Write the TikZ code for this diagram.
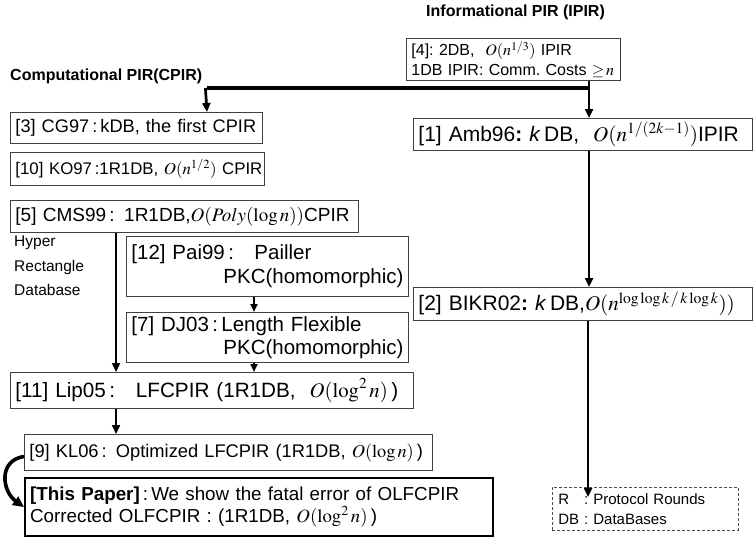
\documentclass[tikz,border=0pt]{standalone}
\usepackage{mathptmx}
\usepackage[no-math]{fontspec}
\setmainfont{Liberation Sans}
\usetikzlibrary{arrows.meta}
\tikzset{
  box/.style={draw=black!75, line width=0.9pt, anchor=north west, align=left,
    inner xsep=5pt, inner ysep=1pt},
  fs/.style n args={2}{font=\fontsize{#1}{#2}\selectfont},
  paperbox/.style={box, draw=black, line width=2.2pt},
  arr/.style={line width=2.7pt, -{Triangle[length=9pt,width=8pt]}},
  thinarr/.style={line width=2pt, -{Triangle[length=8pt,width=7pt]}},
  title/.style={anchor=west, inner sep=0pt, font=\bfseries\fontsize{16}{19}\selectfont},
}
\newcommand{\rfill}{\hspace*{0pt plus 1filll}}
\frenchspacing
\begin{document}
\begin{tikzpicture}[x=1pt,y=-1pt]
\useasboundingbox (0,0) rectangle (754,544);

% titles
\node[title] (tI) at (426,12) {Informational PIR (IPIR)};
\node[title] (tC) at (10,76) {Computational PIR(CPIR)};

% boxes
\node[box, fs={16}{19.5}, text width=204pt, minimum height=42pt] (b4) at (406,38)
  {\mbox{[4]: 2DB,~ $O(n^{1/3})$ IPIR}\\\mbox{1DB IPIR: Comm. Costs $\geq\! n$}};
\node[box, fs={18.2}{21}, text width=242pt, minimum height=31pt] (b3) at (10,112)
  {\mbox{[3] CG97\,:\,kDB, the first CPIR}};
\node[box, fs={16.8}{21}, text width=244pt, minimum height=33pt] (b10) at (10,152)
  {\mbox{[10] KO97\,:1R1DB, $O(n^{1/2})$ CPIR}};
\node[box, fs={19}{21}, text width=338pt, minimum height=32pt] (b5) at (10,200)
  {\mbox{[5] CMS99\,:\, 1R1DB,$O(Poly(\log n))$CPIR}};
\node[box, fs={21}{24}, text width=329pt, minimum height=32pt] (b1) at (413,118)
  {\mbox{[1] Amb96\textbf{:} \textit{k}\,DB,~ $O(n^{1/(2k-1)})$IPIR}};
\node[box, fs={21}{24}, text width=329pt, minimum height=33pt] (b2) at (413,287)
  {\mbox{[2] BIKR02\textbf{:} \textit{k}\,DB,$O(n^{\log\log k\,/\,k\log k}))$}};
\node[box, fs={20.5}{24}, text width=272pt, minimum height=60pt] (b12) at (126,236)
  {\mbox{[12] Pai99\,:~~ Pailler}\\\rfill\mbox{PKC(homomorphic)}};
\node[box, fs={20.5}{23}, text width=272pt, minimum height=50pt] (b7) at (126,312)
  {\mbox{[7] DJ03\,:\,Length Flexible}\\\rfill\mbox{PKC(homomorphic)}};
\node[box, fs={20.7}{24}, text width=393pt, minimum height=36pt] (b11) at (10,372)
  {\mbox{[11] Lip05\,:~~ LFCPIR (1R1DB,~ $O(\log^2 n)$\,)}};
\node[box, fs={18.3}{21}, text width=398pt, minimum height=36pt] (b9) at (24,434)
  {\mbox{[9] KL06\,:\, Optimized LFCPIR (1R1DB, $O(\log n)$\,)}};
\node[paperbox, fs={18.8}{22}, text width=458pt, minimum height=58pt] (bT) at (24,477)
  {\mbox{\textbf{[This Paper]}\,:\,We show the fatal error of OLFCPIR}\\\mbox{Corrected OLFCPIR : (1R1DB, $O(\log^2 n)$\,)}};

% side label
\node[anchor=north west, align=left, inner sep=0pt, font=\fontsize{15.5}{24.5}\selectfont] (hr) at (14,236)
  {Hyper\\Rectangle\\Database};

% legend
\node[draw=black!70, dashed, dash pattern=on 3pt off 2pt, line width=0.8pt, anchor=north west, align=left,
  inner xsep=6pt, text width=174pt, minimum height=43pt, font=\fontsize{15}{19.5}\selectfont] (leg) at (552,487)
  {R~~~: Protocol Rounds\\DB : DataBases};

% connectors
\coordinate (j) at (589,88);
\coordinate (jl) at (207,88);
\coordinate (c) at (116,0);
\coordinate (d) at (254,0);
\coordinate (e) at (588,497);
\draw[line width=3.8pt] (j) -- (jl);
\draw[arr] (b4.south -| j) -- (b1.north -| j);
\draw[arr] ([xshift=-1.6pt]jl) -- (b3.north -| jl);
\draw[arr] (b1.south -| j) -- (b2.north -| j);
\draw[arr] (b2.south -| e) -- (e);
\draw[arr] (b5.south -| c) -- (b11.north -| c);
\draw[thinarr] (b12.south -| d) -- (b7.north -| d);
\draw[thinarr] (b7.south -| d) -- (b11.north -| d);
\draw[arr] (b11.south -| c) -- (b9.north -| c);
\draw[line width=3.6pt, -{Triangle[length=11pt,width=10pt]}] ([yshift=-4pt]b9.west) .. controls +(-26,4) and +(-22,-16) .. (bT.west);
\end{tikzpicture}
\end{document}
